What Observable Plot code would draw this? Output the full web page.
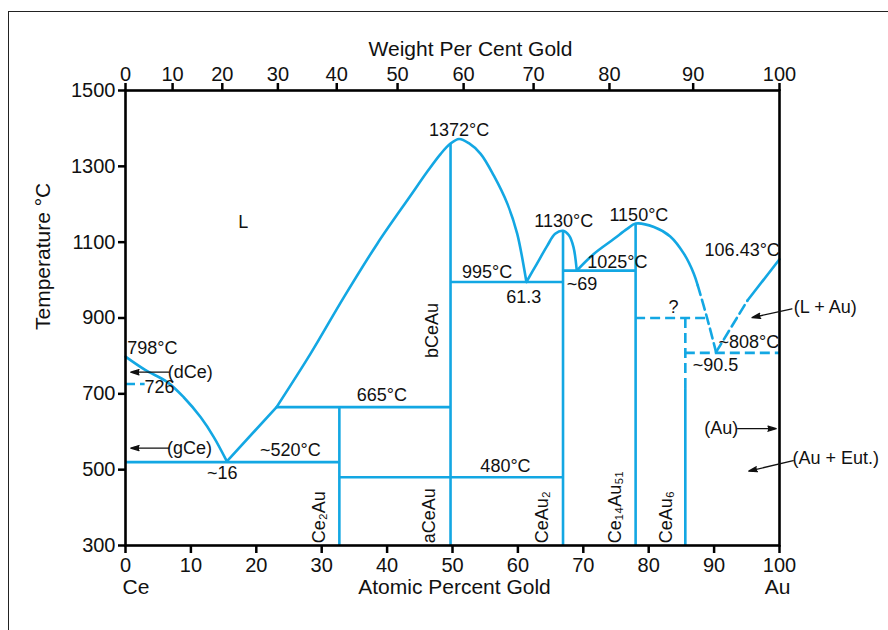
<!DOCTYPE html>
<html>
<head>
<meta charset="utf-8">
<script src="https://cdn.jsdelivr.net/npm/d3@7"></script>
<script src="https://cdn.jsdelivr.net/npm/@observablehq/plot@0.6"></script>
<style>
html, body { margin: 0; padding: 0; background: #fff; overflow: hidden; }
#wrap { position: relative; width: 888px; height: 630px; overflow: hidden; }
#border { position: absolute; left: 8px; top: 11px; width: 920px; height: 700px;
  border-left: 1.4px solid #222; border-top: 1.4px solid #222; pointer-events: none; }
#chart { position: absolute; left: 0; top: 0; }
</style>
</head>
<body>
<div id="wrap"><div id="chart"></div><div id="border"></div></div>
<script>
// ---------- data (x = atomic % Au, t = temperature °C) ----------
const atomicTicks = [0, 10, 20, 30, 40, 50, 60, 70, 80, 90, 100];
const tempTicks = [300, 500, 700, 900, 1100, 1300, 1500];
const weightLabels = [0, 10, 20, 30, 40, 50, 60, 70, 80, 90, 100];
const weightAtAtomic = [0, 7.2, 14.8, 23.3, 32.3, 41.6, 51.7, 62.4, 74.0, 86.8, 100];

const liquidusCe = [[0, 798], [3, 763], [6.4, 731], [8.9, 691], [11.5, 638], [13.5, 586], [15.5, 522]];
const liquidusEutectic = [[15.5, 522], [23.1, 665]];
const domeCeAu = [[23.1, 665], [28.3, 806], [33.4, 955], [38.5, 1096], [43.6, 1223], [46.1, 1285],
  [48.2, 1333], [49.7, 1360], [51.0, 1372], [52.5, 1361], [54.3, 1333], [56.3, 1276],
  [58.4, 1201], [59.9, 1122], [61.3, 995]];
const domeCeAu2 = [[61.3, 995], [62.9, 1043], [64.5, 1091], [65.7, 1122], [66.9, 1130],
  [67.8, 1118], [68.5, 1087], [69.0, 1025]];
const domeCe14Au51 = [[69.0, 1025], [71.6, 1069], [74.7, 1109], [76.7, 1135], [78.0, 1149],
  [80.8, 1140], [83.3, 1115], [85.4, 1069], [86.9, 1017], [87.5, 986]];
const liquidusDashedLeft = [[87.5, 986], [88.9, 902], [90.3, 810]];
const liquidusDashedRight = [[90.3, 810], [95.1, 946]];
const liquidusAu = [[95.1, 946], [100, 1055]];

const solidIsoT = [520, 665, 480, 995, 1025];
const solidIsoFrom = [0, 23.1, 32.7, 49.7, 66.9];
const solidIsoTo = [32.7, 49.7, 66.9, 66.9, 78.0];
const dashedIsoT = [726, 900, 808];
const dashedIsoFrom = [0, 78.0, 85.6];
const dashedIsoTo = [3, 88.9, 100];

const compoundNames = ["Ce₂Au", "aCeAu", "CeAu₂", "Ce₁₄Au₅₁", "CeAu₆"];
const compoundX = [32.7, 49.7, 66.9, 78.0, 85.6];
const compoundTop = [665, 1360, 1130, 1149, 714];
const compoundLabelX = [29.6, 46.4, 63.7, 74.9, 82.7];
const ceAu6DashedFrom = 714, ceAu6DashedTo = 900;

const labelTexts = ["L", "1372°C", "1130°C", "1150°C", "1025°C", "995°C", "61.3", "~69", "665°C",
  "106.43°C", "?", "~808°C", "~90.5", "798°C", "(dCe)", "726", "(gCe)", "~16", "~520°C", "480°C",
  "(L + Au)", "(Au)", "(Au + Eut.)"];
const labelX = [18.0, 51.0, 67.0, 78.5, 75.2, 55.3, 60.9, 69.8, 39.2,
  94.3, 83.8, 95.3, 90.2, 4.1, 9.9, 5.2, 9.8, 14.8, 25.2, 58.1,
  107.0, 91.1, 108.6];
const labelT = [1152, 1395, 1155, 1170, 1047, 1021, 955, 988, 696,
  1078, 929, 836, 775, 819, 757, 718, 557, 491, 551, 508,
  929, 608, 531];

const arrowFromX = [6.6, 6.6, 101.9, 93.6, 102.1];
const arrowFromT = [757, 557, 924, 608, 524];
const arrowToX = [0.8, 0.8, 95.8, 99.5, 95.3];
const arrowToT = [757, 557, 901, 608, 496];

// ---------- build ----------
const BLUE = "#13a7e3";
const INK = "#111";
const FONT = "'Liberation Sans', Arial, Helvetica, sans-serif";
const pts = a => a.map(([x, t]) => ({x, t}));
const weightMap = new Map(weightAtAtomic.map((p, i) => [p, weightLabels[i]]));
const solidIso = solidIsoT.map((t, i) => ({t, x1: solidIsoFrom[i], x2: solidIsoTo[i]}));
const dashedIso = dashedIsoT.map((t, i) => ({t, x1: dashedIsoFrom[i], x2: dashedIsoTo[i]}));
const compounds = compoundNames.map((name, i) => ({name, x: compoundX[i], top: compoundTop[i], lx: compoundLabelX[i]}));
const labels = labelTexts.map((text, i) => ({text, x: labelX[i], t: labelT[i]}));
const arrows = arrowFromX.map((x1, i) => ({x1, y1: arrowFromT[i], x2: arrowToX[i], y2: arrowToT[i]}));

const lineOpts = {x: "x", y: "t", stroke: BLUE, strokeWidth: 2.6};
const curved = {...lineOpts, curve: "catmull-rom"};
const dash = "10,5";

const chart = Plot.plot({
  width: 888, height: 630,
  marginLeft: 125, marginRight: 109, marginTop: 90, marginBottom: 85,
  style: {fontFamily: FONT, fontSize: "18px", color: INK, background: "transparent", overflow: "visible"},
  x: {domain: [0, 100]},
  y: {domain: [300, 1500]},
  marks: [
    Plot.line(pts(liquidusCe), curved),
    Plot.line(pts(liquidusEutectic), lineOpts),
    Plot.line(pts(domeCeAu), curved),
    Plot.line(pts(domeCeAu2), curved),
    Plot.line(pts(domeCe14Au51), curved),
    Plot.line(pts(liquidusDashedLeft), {...curved, strokeDasharray: dash}),
    Plot.line(pts(liquidusDashedRight), {...lineOpts, strokeDasharray: dash}),
    Plot.line(pts(liquidusAu), lineOpts),
    Plot.ruleY(solidIso, {y: "t", x1: "x1", x2: "x2", stroke: BLUE, strokeWidth: 2.6}),
    Plot.ruleY(dashedIso, {y: "t", x1: "x1", x2: "x2", stroke: BLUE, strokeWidth: 2.6, strokeDasharray: dash}),
    Plot.ruleX(compounds, {x: "x", y1: 300, y2: "top", stroke: BLUE, strokeWidth: 2.6}),
    Plot.ruleX([compoundX[4]], {x: d => d, y1: ceAu6DashedFrom, y2: ceAu6DashedTo, stroke: BLUE, strokeWidth: 2.6, strokeDasharray: dash}),
    Plot.frame({stroke: "black", strokeWidth: 2.6}),
    Plot.axisX(atomicTicks, {anchor: "bottom", tickSize: 8, tickPadding: 4, fontSize: 20, strokeWidth: 2.5, label: null, stroke: "black",
      tickFormat: d => String(d)}),
    Plot.axisX(weightAtAtomic, {anchor: "top", tickSize: 8, tickPadding: 2, fontSize: 20, strokeWidth: 2.5, label: null, stroke: "black",
      tickFormat: d => String(weightMap.get(d))}),
    Plot.axisY(tempTicks, {anchor: "left", tickSize: 7, tickPadding: 3, fontSize: 20, strokeWidth: 2.5, label: null, stroke: "black",
      tickFormat: d => String(d)}),
    Plot.text(["Atomic Percent Gold"], {frameAnchor: "bottom", dx: 2, dy: 48, fontSize: 21, fill: INK}),
    Plot.text(["Weight Per Cent Gold"], {frameAnchor: "top", dx: 18, dy: -49, fontSize: 21, fill: INK}),
    Plot.text(["Temperature °C"], {frameAnchor: "left", dx: -82, dy: 12, rotate: -90, fontSize: 21, fill: INK}),
    Plot.text(["Ce"], {frameAnchor: "bottom-left", dx: -3, dy: 48, fontSize: 21, fill: INK}),
    Plot.text(["Au"], {frameAnchor: "bottom-right", dx: 11, dy: 48, fontSize: 21, fill: INK}),
    Plot.text(labels, {x: "x", y: "t", text: "text", fontSize: 18, fill: INK}),
    Plot.text(compounds, {x: "lx", y: 306, text: "name", rotate: -90, textAnchor: "start", fontSize: 18, fill: INK}),
    Plot.text(["bCeAu"], {x: 46.9, y: 867, rotate: -90, fontSize: 18, fill: INK}),
    Plot.arrow(arrows, {x1: "x1", y1: "y1", x2: "x2", y2: "y2", stroke: INK, fill: INK, strokeWidth: 1.3,
      strokeLinejoin: "miter", headLength: 10, headAngle: 34})
  ]
});
document.getElementById("chart").appendChild(chart);
</script>
</body>
</html>
